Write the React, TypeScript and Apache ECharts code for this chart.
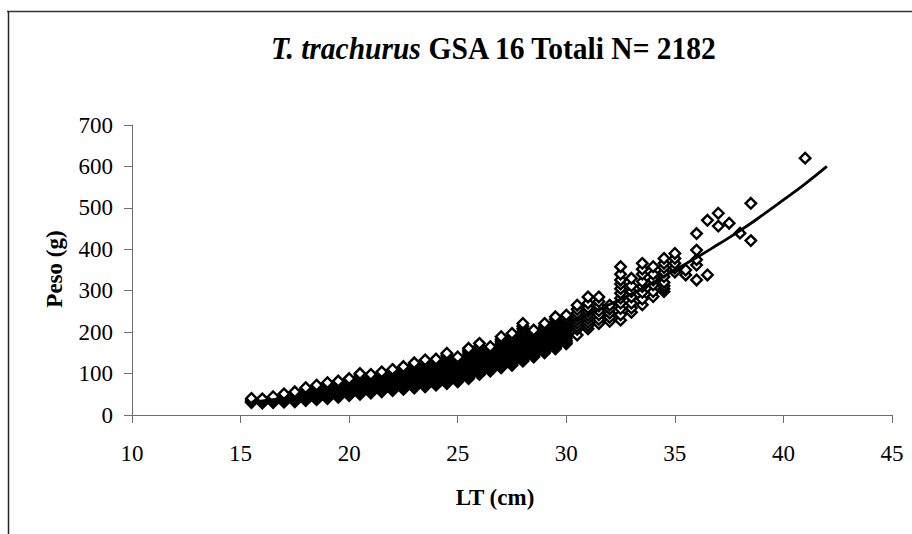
import React, { useEffect, useRef } from "react";
import * as echarts from "echarts";

// Length classes (LT, cm) and the weights (g) read for each class
const lengthClasses: number[] = [
  15.5, 16, 16.5, 17, 17.5, 18, 18.5, 19, 19.5, 20, 20.5, 21, 21.5, 22, 22.5, 23,
  23.5, 24, 24.5, 25, 25.5, 26, 26.5, 27, 27.5, 28, 28.5, 29, 29.5, 30, 30.5, 31,
  31.5, 32, 32.5, 33, 33.5, 34, 34.5, 35, 35.5, 36, 36.5, 37, 37.5, 38, 38.5, 41,
];

const weightsByClass: number[][] = [
  [30, 33, 36, 40],
  [29, 31, 34, 36, 39],
  [30, 32, 35, 38, 41, 44],
  [31, 34, 36, 39, 42, 45, 48, 51],
  [32, 35, 38, 41, 44, 47, 50, 53, 56],
  [35, 38, 41, 44, 47, 50, 53, 56, 59, 62, 66],
  [37, 40, 43, 46, 49, 52, 55, 58, 61, 64, 68, 72],
  [40, 43, 46, 49, 52, 55, 58, 61, 64, 67, 71, 74, 78],
  [43, 46, 49, 52, 55, 58, 61, 64, 67, 70, 73, 76, 79, 82],
  [47, 50, 53, 56, 59, 62, 65, 68, 71, 74, 77, 80, 84, 88],
  [50, 53, 56, 59, 62, 65, 68, 71, 74, 77, 80, 83, 86, 89, 93, 97, 100],
  [53, 56, 59, 62, 65, 68, 71, 74, 77, 80, 83, 86, 89, 92, 95, 98],
  [56, 59, 62, 65, 68, 71, 74, 77, 80, 83, 86, 89, 92, 95, 98, 101, 104],
  [59, 62, 65, 68, 71, 74, 77, 80, 83, 86, 89, 92, 95, 98, 101, 104, 107, 110],
  [62, 65, 68, 71, 74, 77, 80, 83, 86, 89, 92, 95, 98, 101, 104, 107, 110, 113, 117],
  [65, 68, 71, 74, 77, 80, 83, 86, 89, 92, 95, 98, 101, 104, 107, 110, 114, 118, 122, 126],
  [68, 71, 74, 77, 80, 83, 86, 89, 92, 95, 98, 101, 104, 107, 110, 114, 118, 122, 126, 130, 133],
  [72, 75, 78, 81, 84, 87, 90, 93, 96, 99, 102, 105, 108, 111, 114, 118, 122, 126, 130, 135],
  [76, 79, 82, 85, 88, 91, 94, 97, 100, 103, 106, 109, 112, 115, 118, 122, 126, 130, 134, 139, 144, 149],
  [80, 83, 86, 89, 92, 95, 98, 101, 104, 107, 110, 113, 116, 119, 122, 126, 130, 134, 137, 140],
  [88, 91, 94, 97, 100, 103, 106, 109, 112, 115, 118, 121, 124, 127, 131, 135, 139, 143, 147, 152, 156, 161],
  [98, 101, 104, 107, 110, 113, 116, 119, 122, 125, 128, 131, 134, 138, 142, 146, 150, 155, 160, 166, 173],
  [106, 109, 112, 115, 118, 121, 124, 127, 130, 133, 136, 140, 144, 148, 152, 156, 160, 165],
  [114, 117, 120, 123, 126, 129, 132, 135, 138, 141, 144, 148, 152, 156, 160, 164, 168, 172, 177, 182, 189],
  [120, 123, 126, 129, 132, 135, 138, 141, 144, 147, 150, 154, 158, 162, 166, 170, 174, 179, 184, 190, 197],
  [130, 133, 136, 139, 142, 145, 148, 151, 154, 157, 160, 164, 168, 172, 176, 180, 185, 190, 196, 202, 208, 214, 221],
  [140, 143, 146, 149, 152, 155, 158, 162, 166, 170, 174, 178, 182, 186, 190, 195, 200, 205],
  [150, 153, 156, 159, 162, 165, 168, 172, 176, 180, 184, 188, 192, 196, 200, 205, 210, 215, 221],
  [160, 163, 166, 169, 172, 175, 178, 182, 186, 190, 194, 198, 202, 206, 210, 215, 220, 225, 231, 237],
  [172, 176, 180, 185, 190, 195, 200, 205, 210, 216, 222, 228, 234, 241],
  [193, 207, 214, 222, 230, 238, 246, 255, 265],
  [208, 216, 224, 233, 241, 250, 259, 270, 285],
  [221, 231, 242, 252, 263, 274, 285],
  [226, 236, 246, 256, 265],
  [229, 242, 257, 270, 282, 294, 305, 316, 326, 340, 358],
  [248, 258, 270, 285, 298, 312, 330],
  [266, 280, 296, 310, 322, 340, 352, 366],
  [286, 298, 314, 326, 340, 358],
  [298, 305, 312, 320, 334, 345, 356, 366, 378],
  [345, 355, 366, 378, 390],
  [338, 350],
  [326, 362, 375, 398, 438],
  [338, 470],
  [456, 487],
  [463],
  [439],
  [421, 511],
  [620],
];

// Fitted length-weight curve
const curveLT: number[] = [
  15.5, 16, 17, 18, 19, 20, 21, 22, 23, 24, 25, 26, 27, 28, 29, 30, 31, 32, 33,
  34, 35, 36, 37, 38, 39, 40, 41, 42,
];
const curveW: number[] = [
  31, 34, 40, 48, 56, 66, 76, 87, 100, 113, 128, 144, 161, 179, 199, 220, 243,
  267, 292, 320, 350, 380, 412, 445, 481, 519, 558, 600,
];

const xTicks = { min: 10, max: 45, interval: 5 };
const yTicks = { min: 0, max: 700, interval: 100 };

const FONT = "'Liberation Serif', 'Times New Roman', serif";

export default function App() {
  const ref = useRef<HTMLDivElement>(null);

  useEffect(() => {
    if (!ref.current) return;
    const chart = echarts.init(ref.current, undefined, { renderer: "svg" });

    const scatterData: number[][] = [];
    lengthClasses.forEach((lt, i) => {
      weightsByClass[i].forEach((w) => scatterData.push([lt, w]));
    });
    const lineData = curveLT.map((lt, i) => [lt, curveW[i]]);

    const axisLineStyle = { color: "#6e6e6e", width: 1 };

    chart.setOption({
      animation: false,
      backgroundColor: "#ffffff",
      grid: { left: 132, top: 125, right: 20, bottom: 119, containLabel: false },
      xAxis: {
        type: "value",
        min: xTicks.min,
        max: xTicks.max,
        interval: xTicks.interval,
        axisLine: { show: true, onZero: false, lineStyle: axisLineStyle },
        axisTick: { show: true, length: 8, lineStyle: axisLineStyle },
        splitLine: { show: false },
        axisLabel: {
          color: "#000",
          fontFamily: FONT,
          fontSize: 23,
          margin: 27,
        },
      },
      yAxis: {
        type: "value",
        min: yTicks.min,
        max: yTicks.max,
        interval: yTicks.interval,
        axisLine: { show: true, onZero: false, lineStyle: axisLineStyle },
        axisTick: { show: true, length: 8, lineStyle: axisLineStyle },
        splitLine: { show: false },
        axisLabel: {
          color: "#000",
          fontFamily: FONT,
          fontSize: 23,
          margin: 19,
        },
      },
      graphic: [
        {
          type: "line",
          shape: { x1: 7, y1: 11.5, x2: 912, y2: 11.5 },
          style: { stroke: "#333", lineWidth: 1.5 },
          silent: true,
        },
        {
          type: "line",
          shape: { x1: 8.5, y1: 11, x2: 8.5, y2: 534 },
          style: { stroke: "#222", lineWidth: 1.5 },
          silent: true,
        },
        {
          type: "text",
          x: 494,
          y: 48,
          scaleY: 1.1,
          silent: true,
          style: {
            text: "{i|T. trachurus}  {b|GSA 16 Totali N= 2182}",
            align: "center",
            verticalAlign: "middle",
            fill: "#000",
            rich: {
              i: {
                fontFamily: FONT,
                fontSize: 29.5,
                fontWeight: "bold",
                fontStyle: "italic",
                fill: "#000",
              },
              b: {
                fontFamily: FONT,
                fontSize: 29.5,
                fontWeight: "bold",
                fill: "#000",
              },
            },
          },
        },
        {
          type: "text",
          x: 495,
          y: 497,
          silent: true,
          style: {
            text: "LT (cm)",
            align: "center",
            verticalAlign: "middle",
            fontFamily: FONT,
            fontSize: 23,
            fontWeight: "bold",
            fill: "#000",
          },
        },
        {
          type: "text",
          x: 54,
          y: 269,
          rotation: Math.PI / 2,
          silent: true,
          style: {
            text: "Peso (g)",
            align: "center",
            verticalAlign: "middle",
            fontFamily: FONT,
            fontSize: 23,
            fontWeight: "bold",
            fill: "#000",
          },
        },
      ],
      series: [
        {
          type: "scatter",
          data: scatterData,
          symbol: "diamond",
          symbolSize: 10.5,
          silent: true,
          itemStyle: { color: "#ffffff", borderColor: "#000000", borderWidth: 2.4, opacity: 1 },
          z: 2,
        },
        {
          type: "line",
          data: lineData,
          showSymbol: false,
          smooth: true,
          silent: true,
          lineStyle: { color: "#000000", width: 2.8 },
          z: 3,
        },
      ],
    });

    return () => chart.dispose();
  }, []);

  return (
    <div
      ref={ref}
      style={{ position: "fixed", left: 0, top: 0, width: 912, height: 534 }}
    />
  );
}
